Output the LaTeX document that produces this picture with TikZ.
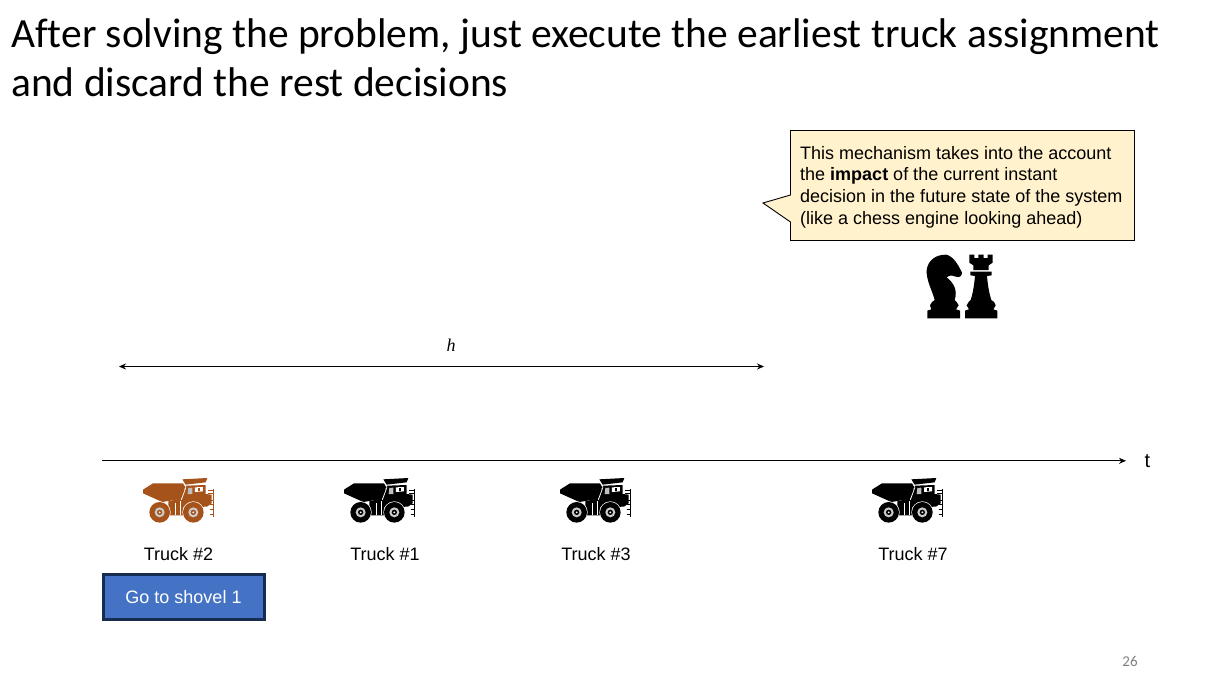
\documentclass[tikz,border=0pt]{standalone}
\usepackage{fontspec}
\setmainfont{Liberation Sans}
\newfontfamily\titlefont[Ligatures=NoCommon]{Carlito}
\newfontfamily\mathlikefont{Liberation Serif}
\usetikzlibrary{arrows.meta}
\definecolor{calloutfill}{HTML}{FFF2CC}
\definecolor{btnfill}{HTML}{4472C4}
\definecolor{btnedge}{HTML}{172C51}
\definecolor{truckbrown}{HTML}{A5521B}
\tikzset{
  titletext/.style={anchor=base west,inner sep=0pt,font=\titlefont\fontsize{41.5}{46}\selectfont},
  label/.style={inner sep=0pt,font=\fontsize{18}{21}\selectfont},
  calltext/.style={anchor=base west,inner sep=0pt,font=\fontsize{18}{21}\selectfont},
  axisline/.style={line width=0.8pt,-{Stealth[length=7pt,width=6pt]}},
  spanline/.style={line width=0.8pt,{Stealth[length=7pt,width=6pt]}-{Stealth[length=7pt,width=6pt]}},
  truck/.pic={
    \begin{scope}[x=0.3333pt,y=-0.3333pt]
      % dump bed
      \fill[pic actions] (12,47) -- (42,28) -- (132,28) -- (138,38) -- (130,74) -- (70,84) -- (12,58) -- cycle;
      % canopy
      \fill[pic actions] (130,16) -- (205,12) -- (200,25) -- (140,32) -- cycle;
      % cab and frame
      \fill[pic actions] (142,35) -- (200,33) -- (200,60) -- (218,62) -- (218,88) -- (204,98) -- (125,100) -- (125,72) -- cycle;
      \fill[pic actions] (88,82) -- (130,72) -- (135,124) -- (88,124) -- cycle;
      % windows
      \fill[white] (168,40) -- (192,39) -- (192,52) -- (168,54) -- cycle;
      \fill[pic actions] (176,42) rectangle (184,50);
      \fill[white!75!black] (148,42) -- (160,41) -- (160,60) -- (146,60) -- cycle;
      % frame stripes
      \fill[white] (109,88) -- (112,88) -- (112,124) -- (109,124) -- cycle;
      \fill[white] (122,82) -- (125,82) -- (125,124) -- (122,124) -- cycle;
      \fill[white] (126,76) -- (140,40) -- (142,40) -- (128,78) -- cycle;
      % ladder
      \draw[pic actions,line width=0.6pt] (222,46) -- (222,130);
      \draw[pic actions,line width=0.5pt] (208,50) -- (222,50) (208,58) -- (222,58) (214,78) -- (222,78) (212,92) -- (222,92) (212,106) -- (222,106) (212,120) -- (222,120);
      % wheels
      \foreach \cx in {62,163} {
        \fill[white] (\cx,115) circle (33);
        \fill[pic actions] (\cx,115) circle (31);
        \fill[white!80!black] (\cx,115) circle (15);
        \fill[pic actions] (\cx,115) circle (8);
        \fill[white] (\cx,115) circle (3);
      }
    \end{scope}
  }
}
\begin{document}
\begin{tikzpicture}[x=1pt,y=-1pt]
\useasboundingbox (0,0) rectangle (1227,688);
\fill[white] (0,0) rectangle (1227,688);

\node[titletext] (title1) at (11,47) {After solving the problem, just execute the earliest truck assignment};
\node[titletext] (title2) at (11,96) {and discard the rest decisions};

% callout
\path[fill=calloutfill,draw=black,line width=0.9pt]
  (790.5,130.5) -- (1134.5,130.5) -- (1134.5,240.5) -- (790.5,240.5) -- (790.5,222) -- (763,203) -- (790.5,195) -- cycle;
\node[calltext] (c1) at (800,159) {This mechanism takes into the account};
\node[calltext] (c2) at (800,180.5) {the \textbf{impact} of the current instant};
\node[calltext] (c3) at (800,202) {decision in the future state of the system};
\node[calltext] (c4) at (800,224) {(like a chess engine looking ahead)};

% chess pieces
\begin{scope}[shift={(920,250)},x=0.3333pt,y=-0.3333pt]
  \fill[black] (22,205) -- (22,182) -- (34,178) -- (30,166) -- (36,156) -- (44,150)
    .. controls (38,125) and (18,90) .. (20,60)
    .. controls (24,32) and (45,14) .. (78,14)
    .. controls (100,18) and (115,45) .. (126,68)
    .. controls (126,78) and (118,84) .. (108,80)
    .. controls (100,76) and (90,74) .. (80,82)
    .. controls (100,98) and (114,120) .. (104,150)
    -- (110,156) -- (116,166) -- (108,178) -- (120,182) -- (120,205) -- cycle;
  \fill[black] (135,205) -- (135,182) -- (147,178) -- (140,166) -- (146,156) -- (152,150)
    .. controls (160,125) and (163,100) .. (165,78)
    -- (151,76) -- (151,65) -- (215,65) -- (215,76) -- (201,78)
    .. controls (203,100) and (206,125) .. (214,150)
    -- (222,156) -- (227,166) -- (220,178) -- (232,182) -- (232,205) -- cycle;
  \fill[black] (148,14) -- (163,14) -- (163,24) -- (175,24) -- (175,14) -- (191,14) -- (191,24) -- (203,24) -- (203,14) -- (218,14)
    -- (218,38) -- (206,46) -- (206,60) -- (160,60) -- (160,46) -- (148,38) -- cycle;
\end{scope}

% horizon
\coordinate (hL) at (119,366.5);
\coordinate (hR) at (764,366.5);
\draw[spanline] (hL) -- (hR);
\node[inner sep=0pt,font=\mathlikefont\itshape\fontsize{18}{21}\selectfont] (hlabel) at (451,345) {h};

% time axis
\coordinate (tL) at (102,460.8);
\coordinate (tR) at (1126,460.8);
\draw[axisline] (tL) -- (tR);
\node[label,font=\fontsize{20}{24}\selectfont] (tlabel) at (1147.5,461) {t};

% trucks
\pic[color=truckbrown] at (139,474) {truck};
\pic[color=black] at (340,474) {truck};
\pic[color=black] at (556,474) {truck};
\pic[color=black] at (868,474) {truck};

\node[label] (t2) at (178.5,554) {Truck \#2};
\node[label] (t1) at (385,554) {Truck \#1};
\node[label] (t3) at (596,554) {Truck \#3};
\node[label] (t7) at (913,554) {Truck \#7};

% button
\node[draw=btnedge,fill=btnfill,line width=3pt,minimum width=161pt,minimum height=45pt,inner sep=0pt,text=white,font=\fontsize{18}{21}\selectfont] (btn) at (183.5,597.3) {Go to shovel 1};

\node[inner sep=0pt,text=gray,font=\titlefont\fontsize{15}{16}\selectfont] (page) at (1130,661) {26};
\end{tikzpicture}
\end{document}
